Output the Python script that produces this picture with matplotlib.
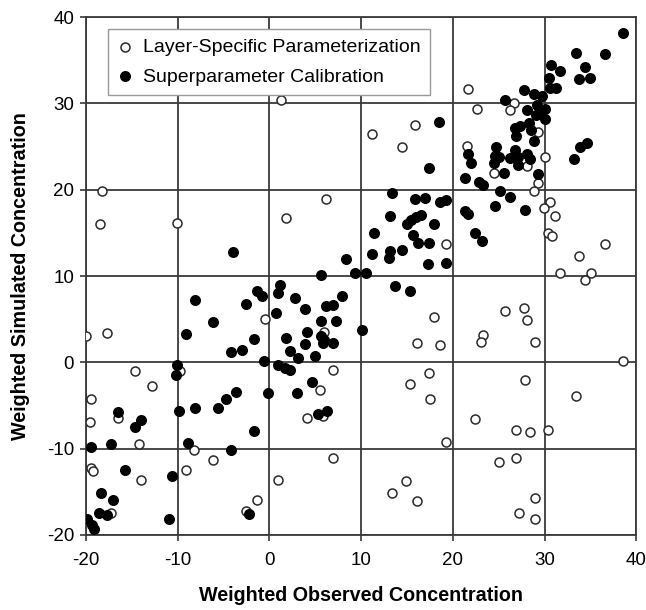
import matplotlib
matplotlib.use("Agg")
import matplotlib.pyplot as plt
import numpy as np

plt.rcParams['font.family'] = ['Liberation Sans', 'DejaVu Sans']
plt.rcParams['axes.unicode_minus'] = False

# Layer-Specific Parameterization (open circles)
layer_x = [1.3, 11.2, 15.9, 14.5, -18.3, 21.7, 26.7, 22.6, 26.2, 29.3, 21.5, 28.1,
           30.1, 24.5, 29.3, 28.9, 30.6, 29.9, 31.1, 30.4, 30.8, 19.3, 36.6, 33.7,
           31.7, 35.1, 34.4, 18.0, 25.7, 27.8, 28.1, 23.3, 23.1, 18.6, 29.0, 38.5,
           27.9, 33.4, 22.4, 26.9, 28.4, 30.4, 19.2, 25.0, 26.9, 29.0, 27.2, 29.0,
           6.9, 5.5, 4.1, 5.8, 6.9, 0.9, -1.4, 15.3, 17.4, 17.5, 14.9, 13.4, 16.1,
           -9.7, -14.6, -12.8, -19.4, -16.5, -19.6, -14.2, -8.2, -6.1, -9.1, -14.0,
           -19.4, -19.2, -17.3, -2.6, -18.5, -10.1, 6.2, 1.8, -0.5, -20.0, -17.7,
           16.1, 5.9]
layer_y = [30.4, 26.4, 27.5, 25.0, 19.8, 31.7, 30.1, 29.3, 29.2, 26.7, 25.1, 22.7,
           23.8, 21.9, 20.8, 19.9, 18.6, 17.9, 16.9, 15.0, 14.6, 13.7, 13.7, 12.3,
           10.4, 10.4, 9.5, 5.3, 6.0, 6.3, 4.9, 3.2, 2.3, 2.0, 2.4, 0.2,
           -2.1, -3.9, -6.6, -7.8, -8.1, -7.8, -9.2, -11.5, -11.1, -15.7, -17.4, -18.1,
           -0.9, -3.2, -6.4, -6.2, -11.1, -13.6, -16.0, -2.5, -1.2, -4.3, -13.7, -15.1, -16.1,
           -1.0, -1.0, -2.7, -4.3, -6.4, -6.9, -9.5, -10.2, -11.3, -12.5, -13.6,
           -12.2, -12.6, -17.5, -17.2, 16.0, 16.2, 18.9, 16.7, 5.0, 3.1, 3.4,
           2.2, 3.5]

# Superparameter Calibration (filled circles)
super_x = [38.5, 33.4, 36.6, 34.4, 33.7, 35.0, 30.7, 31.7, 30.5, 30.6, 31.2, 18.5,
           17.4, 27.8, 25.7, 28.9, 29.7, 28.1, 29.2, 29.5, 30.1, 29.1, 30.0, 26.8,
           27.3, 26.9, 28.3, 28.5, 28.8, 21.6, 22.0, 24.7, 24.6, 25.0, 24.5, 26.8,
           26.2, 27.1, 28.1, 28.4, 27.1, 34.6, 33.9, 33.2, 21.3, 22.8, 23.3, 25.6,
           29.3, 25.1, 26.2, 24.6, 27.9, 18.6, 19.2, 21.3, 21.7, 17.9, 22.4, 23.2,
           19.3, 13.4, 15.9, 17.0, 13.2, 15.4, 16.0, 16.5, 15.0, 11.4, 15.7, 16.2,
           17.4, 14.5, 13.2, 13.0, 11.2, 17.3, 8.4, 5.6, 9.3, 10.5, 13.7, 15.3,
           1.2, 0.9, 2.8, 7.9, 6.2, 6.9, 3.9, 0.7, 5.6, 7.3, 10.1, 4.1, 5.6, 5.9,
           5.8, 6.9, 1.8, 3.9, 2.2, 3.1, 5.0, -0.6, 0.9, 1.7, 2.3, 4.7, -0.1, 3.0,
           5.3, 6.3, -4.2, -3.0, -10.1, -10.2, -16.5, -14.0, -14.6, -9.8, -8.1, -5.6,
           -4.7, -3.6, -1.7, -19.4, -17.3, -8.9, -4.2, -10.6, -15.7, -18.4, -17.0,
           -18.6, -17.7, -19.9, -19.3, -19.1, -10.9, -2.2, -4.0, -8.1, -6.1, -9.1,
           -2.6, -1.4, -0.8, -1.7]
super_y = [38.2, 35.8, 35.7, 34.2, 32.8, 32.9, 34.4, 33.8, 33.0, 31.8, 31.8, 27.9,
           22.5, 31.5, 30.4, 31.1, 30.9, 29.2, 29.8, 29.1, 29.3, 28.6, 28.2, 27.2,
           27.4, 26.2, 27.7, 26.9, 25.6, 24.1, 23.1, 24.9, 23.9, 23.8, 23.1, 24.6,
           23.7, 23.8, 24.1, 23.6, 22.9, 25.4, 25.0, 23.5, 21.4, 20.9, 20.5, 21.9,
           21.8, 19.9, 19.2, 18.1, 17.7, 18.6, 18.8, 17.5, 17.2, 16.0, 15.0, 14.1,
           11.5, 19.6, 18.9, 19.0, 17.0, 16.5, 16.8, 17.1, 16.0, 15.0, 14.8, 13.8,
           13.8, 13.0, 12.9, 12.1, 12.5, 11.4, 12.0, 10.1, 10.3, 10.3, 8.8, 8.3,
           9.0, 8.0, 7.4, 7.7, 6.5, 6.6, 6.2, 5.7, 4.8, 4.8, 3.7, 3.5, 3.0, 2.6,
           2.2, 2.2, 2.8, 2.1, 1.3, 0.5, 0.7, 0.2, -0.3, -0.7, -0.9, -2.3, -3.6, -3.5,
           -6.0, -5.6, 1.2, 1.4, -0.3, -1.5, -5.7, -6.7, -7.5, -5.6, -5.3, -5.3,
           -4.2, -3.4, -7.9, -9.8, -9.5, -9.3, -10.2, -13.2, -12.5, -15.1, -15.9,
           -17.4, -17.7, -18.1, -18.9, -19.3, -18.2, -17.6, 12.8, 7.2, 4.7, 3.3,
           6.8, 8.3, 7.7, 2.7]

ticks = [-20, -10, 0, 10, 20, 30, 40]

fig = plt.figure(figsize=(6.46, 6.10), dpi=100)
ax = fig.add_axes([0.133, 0.123, 0.852, 0.849])

ax.scatter(layer_x, layer_y, s=42, facecolors='white', edgecolors='#2a2a2a',
           linewidths=1.1, zorder=3, label='Layer-Specific Parameterization')
ax.scatter(super_x, super_y, s=48, color='black', zorder=4,
           label='Superparameter Calibration')

ax.set_xlim(-20, 40)
ax.set_ylim(-20, 40)
ax.set_xticks(ticks)
ax.set_yticks(ticks)
ax.grid(True, color='#3a3a3a', linewidth=1.3, zorder=1)
ax.set_axisbelow(True)
for sp in ax.spines.values():
    sp.set_color('#3a3a3a')
    sp.set_linewidth(1.3)
ax.tick_params(direction='out', length=4.5, width=1.2, color='#3a3a3a',
               labelsize=13.5)
ax.tick_params(axis='x', pad=8)
ax.tick_params(axis='y', pad=4)

ax.set_xlabel('Weighted Observed Concentration', fontsize=14.2, fontweight='bold',
              labelpad=12)
ax.set_ylabel('Weighted Simulated Concentration', fontsize=14.2, fontweight='bold',
              labelpad=12)

leg = ax.legend(loc='upper left', bbox_to_anchor=(0.04, 0.977), fontsize=14,
                frameon=True, fancybox=False, framealpha=1, edgecolor='#999999',
                handlelength=0.8, handletextpad=0.5, labelspacing=0.6,
                borderpad=0.5, borderaxespad=0, scatterpoints=1)
leg.get_frame().set_linewidth(1.0)
leg.set_zorder(5)

fig.savefig('out.png', dpi=100)
